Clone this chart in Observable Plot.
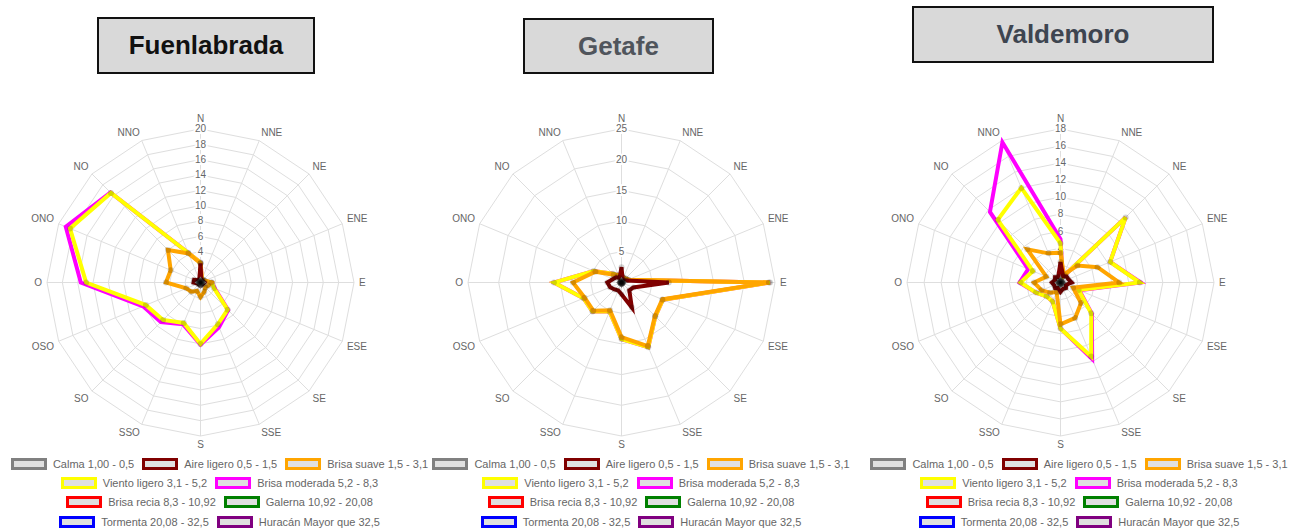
<!DOCTYPE html>
<html><head><meta charset="utf-8">
<script src="https://cdn.jsdelivr.net/npm/d3@7"></script>
<script src="https://cdn.jsdelivr.net/npm/@observablehq/plot@0.6"></script>
<style>
body{margin:0;background:#fff;width:1301px;height:529px;position:relative;overflow:hidden;font-family:"Liberation Sans",Arial,Helvetica,sans-serif;}
.title{position:absolute;box-sizing:border-box;border:2px solid #111;background:#d9d9d9;font-weight:bold;font-size:26px;display:flex;align-items:center;justify-content:center;}
.chart{position:absolute;}
.legend{position:absolute;width:440px;font-size:11px;color:#666;}
.row{display:flex;justify-content:center;height:19.3px;align-items:center;white-space:nowrap}
.box{display:inline-block;width:30px;height:6px;border:3px solid;background:#e0e0e0;margin-right:6px}
.item{display:inline-flex;align-items:center;margin:0 4px}
</style></head><body>
<script>
const directions = ["N","NNE","NE","ENE","E","ESE","SE","SSE","S","SSO","SO","OSO","O","ONO","NO","NNO"];
const seriesNames = ["Calma 1,00 - 0,5","Aire ligero 0,5 - 1,5","Brisa suave 1,5 - 3,1","Viento ligero 3,1 - 5,2","Brisa moderada 5,2 - 8,3","Brisa recia 8,3 - 10,92","Galerna 10,92 - 20,08","Tormenta 20,08 - 32,5","Huracán Mayor que 32,5"];
const seriesColors = ["#808080","#800000","#FFA500","#FFFF00","#FF00FF","#FF0000","#008000","#0000FF","#800080"];
const stationNames = ["Fuenlabrada","Getafe","Valdemoro"];

// Fuenlabrada
const fuenlabradaTicks = [2,4,6,8,10,12,14,16,18,20];
const fuenlabradaCalma    = [0.3,0.2,0.2,0.2,0.3,0.2,0.2,0.2,0.3,0.2,0.2,0.2,0.3,0.2,0.2,0.2];
const fuenlabradaAire     = [2.5,0.3,0.3,0.3,0.5,0.4,0.3,0.3,0.4,0.3,0.3,0.4,0.9,0.9,0.4,0.4];
const fuenlabradaSuave    = [2.5,0.4,0.4,0.6,1.4,1.1,0.9,1.3,1.9,1.2,1.7,2.0,4.5,4.2,6.0,4.1];
const fuenlabradaViento   = [2.6,0.5,0.5,0.6,1.5,1.9,5.0,5.9,8.0,5.7,6.9,7.7,14.9,18.4,16.5,4.2];
const fuenlabradaModerada = [2.6,0.5,0.5,0.6,1.5,2.0,5.1,6.3,8.1,5.9,7.3,8.1,15.6,19.0,16.6,4.2];
const fuenlabradaRecia    = [0,0,0,0,0,0,0,0,0,0,0,0,0,0,0,0];
const fuenlabradaGalerna  = [0,0,0,0,0,0,0,0,0,0,0,0,0,0,0,0];
const fuenlabradaTormenta = [0,0,0,0,0,0,0,0,0,0,0,0,0,0,0,0];
const fuenlabradaHuracan  = [0,0,0,0,0,0,0,0,0,0,0,0,0,0,0,0];

// Getafe
const getafeTicks = [5,10,15,20,25];
const getafeCalma    = [0.3,0.2,0.2,0.2,0.3,0.2,0.2,0.2,0.3,0.2,0.2,0.2,0.3,0.2,0.2,0.2];
const getafeAire     = [2.5,0.5,0.5,0.8,7.7,2.1,1.8,4.4,1.9,1.4,1.6,2.0,2.3,1.5,1.2,0.8];
const getafeSuave    = [1.2,0.8,0.9,1.2,24.0,7.2,7.7,11.2,8.9,4.9,6.5,6.5,7.9,4.6,1.8,1.3];
const getafeViento   = [1.2,0.8,0.9,1.2,24.2,7.3,7.8,11.4,9.2,5.1,6.7,6.7,11.0,4.9,2.0,1.3];
const getafeModerada = [1.2,0.8,0.9,1.2,24.2,7.3,7.8,11.4,9.2,5.1,6.7,6.7,11.0,4.9,2.0,1.3];
const getafeRecia    = [0,0,0,0,0,0,0,0,0,0,0,0,0,0,0,0];
const getafeGalerna  = [0,0,0,0,0,0,0,0,0,0,0,0,0,0,0,0];
const getafeTormenta = [0,0,0,0,0,0,0,0,0,0,0,0,0,0,0,0];
const getafeHuracan  = [0,0,0,0,0,0,0,0,0,0,0,0,0,0,0,0];

// Valdemoro
const valdemoroTicks = [2,4,6,8,10,12,14,16,18];
const valdemoroCalma    = [0.3,0.2,0.2,0.2,0.3,0.2,0.2,0.2,0.3,0.2,0.2,0.2,0.3,0.2,0.2,0.2];
const valdemoroAire     = [2.4,0.8,1.0,1.0,1.3,0.7,0.9,0.8,1.1,0.7,0.9,0.8,1.0,0.7,0.9,0.7];
const valdemoroSuave    = [3.5,1.0,2.8,4.7,6.9,1.6,3.4,4.5,4.9,1.2,1.7,2.4,3.1,1.8,5.5,3.7];
const valdemoroViento   = [4.6,0.7,10.8,6.3,9.3,2.3,5.1,9.4,5.4,2.4,2.3,3.1,4.7,3.5,10.4,12.0];
const valdemoroModerada = [5.1,0.7,10.8,6.3,9.4,2.4,5.2,9.7,5.4,2.4,2.3,3.1,4.8,4.1,11.7,17.8];
const valdemoroRecia    = [0,0,0,0,0,0,0,0,0,0,0,0,0,0,0,0];
const valdemoroGalerna  = [0,0,0,0,0,0,0,0,0,0,0,0,0,0,0,0];
const valdemoroTormenta = [0,0,0,0,0,0,0,0,0,0,0,0,0,0,0,0];
const valdemoroHuracan  = [0,0,0,0,0,0,0,0,0,0,0,0,0,0,0,0];

const stations = [
  {name: stationNames[0], ticks: fuenlabradaTicks, series: [fuenlabradaCalma,fuenlabradaAire,fuenlabradaSuave,fuenlabradaViento,fuenlabradaModerada,fuenlabradaRecia,fuenlabradaGalerna,fuenlabradaTormenta,fuenlabradaHuracan]},
  {name: stationNames[1], ticks: getafeTicks, series: [getafeCalma,getafeAire,getafeSuave,getafeViento,getafeModerada,getafeRecia,getafeGalerna,getafeTormenta,getafeHuracan]},
  {name: stationNames[2], ticks: valdemoroTicks, series: [valdemoroCalma,valdemoroAire,valdemoroSuave,valdemoroViento,valdemoroModerada,valdemoroRecia,valdemoroGalerna,valdemoroTormenta,valdemoroHuracan]}
];

// layout
const layout = [
  {cx: 199.5, cy: 281.7, legendCx: 219.5, title: {left: 97, top: 17, w: 218, h: 57, color: "#111"}},
  {cx: 621, cy: 281.7, legendCx: 641, title: {left: 523, top: 18, w: 191, h: 56, color: "#50555c"}},
  {cx: 1060, cy: 281.7, legendCx: 1079, title: {left: 912, top: 6, w: 302, h: 57, color: "#3e4550"}}
];
const PR = 153.5, W = 440, H = 350;
const GRID = "#dedede";
const FONT = "'Liberation Sans', Arial, sans-serif";

function radar(st) {
  const R = d3.max(st.ticks);
  const ang = i => i * Math.PI / 8;
  const X = d => d.v * Math.sin(ang(d.i));
  const Y = d => d.v * Math.cos(ang(d.i));
  const rings = st.ticks.flatMap(t => directions.map((n, i) => ({t, i, v: t})));
  const spokes = directions.map((n, i) => ({i, v: R}));
  const labelR = R * (PR + 5) / PR;
  const labels = directions.map((name, i) => ({i, v: labelR, name}));
  const grp = (f, textAnchor, lineAnchor, dy = 0) => Plot.text(labels.filter(d => f(d.i)), {x: X, y: Y, text: "name", textAnchor, lineAnchor, dy, fontSize: 10, fill: "#666"});
  const marks = [
    Plot.line(rings, {x: X, y: Y, z: "t", curve: "linear-closed", stroke: GRID, strokeWidth: 1}),
    Plot.link(spokes, {x1: 0, y1: 0, x2: X, y2: Y, stroke: GRID, strokeWidth: 1}),
    grp(i => i === 0, "middle", "bottom", -2),
    grp(i => i >= 1 && i <= 3, "start", "bottom"),
    grp(i => i === 4, "start", "middle"),
    grp(i => i >= 5 && i <= 7, "start", "top"),
    grp(i => i === 8, "middle", "top"),
    grp(i => i >= 9 && i <= 11, "end", "top"),
    grp(i => i === 12, "end", "middle"),
    grp(i => i >= 13 && i <= 15, "end", "bottom"),
    Plot.text(st.ticks, {x: 0, y: d => d, text: d => String(d), fontSize: 10, fill: "#666", stroke: "white", strokeWidth: 4, paintOrder: "stroke"})
  ];
  for (let s = st.series.length - 1; s >= 0; s--) {
    const data = st.series[s].map((v, i) => ({i, v}));
    marks.push(Plot.line(data, {x: X, y: Y, curve: "linear-closed", stroke: seriesColors[s], strokeWidth: 4, strokeLinejoin: "miter", strokeMiterlimit: 4}));
    if (s !== 4) marks.push(Plot.dot(data, {x: X, y: Y, r: 3, fill: "rgba(0,0,0,0.17)"}));
  }
  return Plot.plot({
    width: W, height: H, margin: 0,
    style: {background: "transparent", overflow: "visible", fontFamily: FONT},
    x: {type: "linear", domain: [-R, R], range: [W/2 - PR, W/2 + PR], axis: null},
    y: {type: "linear", domain: [-R, R], range: [H/2 + PR, H/2 - PR], axis: null},
    marks
  });
}

const legendRows = [[0,1,2],[3,4],[5,6],[7,8]];

stations.forEach((st, k) => {
  const L = layout[k];
  const t = document.createElement("div");
  t.className = "title";
  Object.assign(t.style, {left: L.title.left + "px", top: L.title.top + "px", width: L.title.w + "px", height: L.title.h + "px", color: L.title.color});
  t.textContent = st.name;
  document.body.appendChild(t);

  const c = document.createElement("div");
  c.className = "chart";
  c.style.left = (L.cx - W/2) + "px";
  c.style.top = (L.cy - H/2) + "px";
  c.appendChild(radar(st));
  document.body.appendChild(c);

  const lg = document.createElement("div");
  lg.className = "legend";
  lg.style.left = (L.legendCx - 220) + "px";
  lg.style.top = "454px";
  legendRows.forEach(row => {
    const r = document.createElement("div");
    r.className = "row";
    row.forEach(s => {
      const it = document.createElement("span");
      it.className = "item";
      const b = document.createElement("span");
      b.className = "box";
      b.style.borderColor = seriesColors[s];
      it.appendChild(b);
      it.appendChild(document.createTextNode(seriesNames[s]));
      r.appendChild(it);
    });
    lg.appendChild(r);
  });
  document.body.appendChild(lg);
});
</script>
</body></html>
